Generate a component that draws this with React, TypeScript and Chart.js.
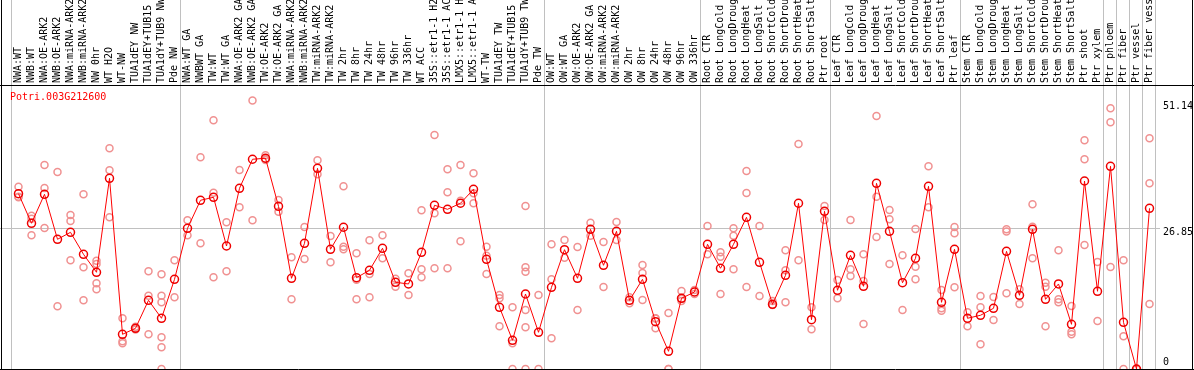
import React, { useEffect, useRef } from "react";
import { Chart, registerables } from "chart.js";

Chart.register(...registerables);

const TITLE = "Potri.003G212600";

const categories: string[] = [
  "NWA:WT", "NWB:WT", "NWA:OE-ARK2", "NWB:OE-ARK2", "NWA:miRNA-ARK2", "NWB:miRNA-ARK2",
  "NW 0hr", "WT H2O", "WT-NW", "TUA1dEY NW", "TUA1dEY+TUB15 NW", "TUA1dY+TUB9 NW", "Pde NW",
  "NWA:WT GA", "NWBWT GA", "TW:WT", "TW:WT GA", "NWA:OE-ARK2 GA", "NWB:OE-ARK2 GA",
  "TW:OE-ARK2", "TW:OE-ARK2 GA", "NWA:miRNA-ARK2 GA", "NWB:miRNA-ARK2 GA", "TW:miRNA-ARK2",
  "TW:miRNA-ARK2 GA", "TW 2hr", "TW 8hr", "TW 24hr", "TW 48hr", "TW 96hr", "TW 336hr",
  "WT ACC", "35S::etr1-1 H2O", "35S::etr1-1 ACC", "LMX5::etr1-1 H2O", "LMX5::etr1-1 ACC",
  "WT-TW", "TUA1dEY TW", "TUA1dEY+TUB15 TW", "TUA1dY+TUB9 TW", "Pde TW",
  "OW:WT", "OW:WT GA", "OW:OE-ARK2", "OW:OE-ARK2 GA", "OW:miRNA-ARK2", "OW:miRNA-ARK2 GA",
  "OW 2hr", "OW 8hr", "OW 24hr", "OW 48hr", "OW 96hr", "OW 336hr",
  "Root CTR", "Root LongCold", "Root LongDrought", "Root LongHeat", "Root LongSalt",
  "Root ShortCold", "Root ShortDrought", "Root ShortHeat", "Root ShortSalt", "Ptr root",
  "Leaf CTR", "Leaf LongCold", "Leaf LongDrought", "Leaf LongHeat", "Leaf LongSalt",
  "Leaf ShortCold", "Leaf ShortDrought", "Leaf ShortHeat", "Leaf ShortSalt", "Ptr leaf",
  "Stem CTR", "Stem LongCold", "Stem LongDrought", "Stem LongHeat", "Stem LongSalt",
  "Stem ShortCold", "Stem ShortDrought", "Stem ShortHeat", "Stem ShortSalt", "Ptr shoot",
  "Ptr xylem", "Ptr phloem", "Ptr fiber", "Ptr vessel", "Ptr fiber vessel",
];

// group boundaries (category index where a new group starts)
const groupBoundaries: number[] = [0, 13, 41, 53, 63, 73, 84, 85, 86, 87, 88];

const means: number[] = [
  33.38, 27.75, 33.27, 24.70, 26.03, 21.84, 18.42, 36.32, 6.61, 7.75,
  13.08, 9.66, 17.08, 26.79, 32.13, 32.70, 23.42, 34.41, 39.94, 40.13,
  30.98, 17.27, 23.94, 38.22, 22.80, 26.99, 17.39, 18.80, 22.99, 16.51,
  16.19, 22.22, 31.17, 30.41, 31.56, 34.22, 20.89, 11.75, 5.47, 14.28,
  6.99, 15.56, 22.72, 17.27, 26.60, 19.75, 26.22, 13.08, 17.08, 9.01,
  3.37, 13.46, 14.66, 23.75, 19.18, 23.75, 28.89, 20.32, 12.32, 17.84,
  31.56, 9.39, 30.03, 14.99, 21.65, 15.75, 35.36, 26.22, 16.43, 21.08,
  34.79, 12.70, 22.80, 9.66, 10.23, 11.56, 22.41, 14.04, 26.60, 13.27,
  16.19, 8.51, 35.80, 14.80, 38.60, 8.89, 0, 30.60,
];

const replicates: number[][] = [
  [34.72, 32.7, 32.8], [29.2, 25.46, 28.6], [38.85, 34.47, 26.85], [37.52, 11.94],
  [29.33, 28.19, 20.7], [33.27, 19.37, 13.08], [20.63, 20.0, 16.32, 15.17], [42.03, 37.84, 28.89],
  [9.65, 5.27, 4.89], [8.06, 7.75, 7.5], [18.6, 13.96, 6.6], [18.03, 13.96, 12.7, 6.03, 4.13, 0],
  [20.7, 13.65], [28.31, 25.46], [40.31, 23.93], [47.36, 33.58, 17.46],
  [27.93, 18.6], [37.9, 30.79], [51.14, 28.31], [40.69, 40.0, 39.8],
  [32.18, 29.96], [21.27, 13.27], [27.04, 20.95], [39.74, 37.07],
  [25.33, 20.31], [34.79, 23.3, 22.79], [22.03, 13.27, 17.0], [24.5, 18.09, 13.65],
  [25.46, 21.07], [17.2, 15.68], [18.22, 14.09], [30.22, 18.98, 17.46],
  [44.56, 29.64, 19.17], [38.02, 33.64, 19.17], [38.85, 32.06, 24.31], [37.26, 33.45, 31.55],
  [23.3, 21.58, 18.09], [14.09, 13.46, 8.13], [11.75, 4.89, 0], [31.04, 19.37, 18.54, 11.24, 7.94, 0],
  [14.09, 0], [23.75, 17.08, 5.85], [24.57, 21.2], [23.23, 11.24],
  [27.87, 25.39], [24.19, 15.62], [28.0, 24.57], [13.65, 12.51],
  [19.81, 18.28, 13.14], [9.65, 7.75, 9.6], [10.66, 0, 0], [14.85, 12.95, 13.4],
  [15.04, 14.28], [27.23, 21.84], [22.22, 21.39, 14.28], [26.79, 25.39, 18.98],
  [37.71, 33.52, 15.62], [27.23, 13.9], [12.95, 12.19], [22.6, 18.8, 12.7],
  [42.85, 20.7], [11.75, 7.56], [31.04, 28.38], [16.95, 13.46],
  [28.38, 18.98, 17.71], [21.84, 16.76, 8.57], [48.18, 32.82, 25.14], [30.28, 28.5, 20.0],
  [21.65, 11.24], [26.66, 19.49, 17.08], [38.6, 30.79], [15.04, 11.55, 11.11],
  [27.04, 25.84, 15.56], [10.79, 8.13], [13.9, 11.75, 4.7], [13.71, 9.33],
  [26.6, 26.2, 14.41], [15.17, 12.38], [31.36, 27.11, 21.07], [16.44, 15.68, 8.13],
  [22.6, 13.27, 12.7], [12.0, 7.11, 6.6], [43.55, 39.93, 23.61], [20.38, 9.14],
  [49.64, 46.97, 19.43], [20.7, 6.22, 0], [0, 0], [43.93, 35.36, 12.38],
];

const yTickValues: number[] = [0, 26.85, 51.14];
const yTickLabels: string[] = ["0", "26.85", "51.14"];
const yTickTextShift: number[] = [-6.5, 4.5, 5.5];

const MONO = '"DejaVu Sans Mono", "Liberation Mono", monospace';

export default function App() {
  const canvasRef = useRef<HTMLCanvasElement | null>(null);

  useEffect(() => {
    const canvas = canvasRef.current;
    if (!canvas) return;

    const replicatePoints: { x: number; y: number }[] = [];
    replicates.forEach((vals, i) => vals.forEach((v) => replicatePoints.push({ x: i, y: v })));

    const framePlugin = {
      id: "framePlugin",
      beforeDatasetsDraw(chart: any) {
        const ctx = chart.ctx;
        const xs = chart.scales.x;
        const ys = chart.scales.y;
        ctx.save();
        ctx.strokeStyle = "#c0c0c0";
        ctx.lineWidth = 1;
        groupBoundaries.forEach((k) => {
          const px = Math.round(xs.getPixelForValue(k - 0.5)) - 0.5;
          ctx.beginPath();
          ctx.moveTo(px, 0);
          ctx.lineTo(px, chart.chartArea.bottom);
          ctx.stroke();
        });
        const gy = Math.round(ys.getPixelForValue(yTickValues[1])) + 0.5;
        ctx.beginPath();
        ctx.moveTo(0, gy);
        ctx.lineTo(chart.chartArea.right + 4, gy);
        ctx.stroke();
        ctx.restore();
      },
      afterDatasetsDraw(chart: any) {
        const ctx = chart.ctx;
        const ys = chart.scales.y;
        const { top, bottom, right } = chart.chartArea;
        ctx.save();
        ctx.strokeStyle = "#000000";
        ctx.lineWidth = 1;
        ctx.beginPath();
        ctx.moveTo(1.5, 0);
        ctx.lineTo(1.5, chart.height);
        ctx.moveTo(1192.5, 0);
        ctx.lineTo(1192.5, chart.height);
        ctx.moveTo(0, top + 0.5);
        ctx.lineTo(chart.width, top + 0.5);
        ctx.moveTo(0, bottom + 0.5);
        ctx.lineTo(chart.width, bottom + 0.5);
        ctx.stroke();
        // title
        ctx.fillStyle = "#ff0000";
        ctx.font = "10px " + MONO;
        ctx.textBaseline = "alphabetic";
        ctx.textAlign = "left";
        ctx.fillText(TITLE, 10, 100);
        // right axis labels
        ctx.fillStyle = "#000000";
        ctx.textBaseline = "middle";
        yTickValues.forEach((v, i) => {
          const py = ys.getPixelForValue(v) + yTickTextShift[i];
          ctx.fillText(yTickLabels[i], right + 7, py);
        });
        ctx.restore();
      },
    };

    const chart = new Chart(canvas, {
      type: "line",
      data: {
        labels: categories,
        datasets: [
          {
            label: "mean",
            data: means,
            borderColor: "#ff0000",
            borderWidth: 1,
            pointRadius: 4,
            pointBorderWidth: 1.5,
            pointBorderColor: "#ee0000",
            pointBackgroundColor: "rgba(0,0,0,0)",
            tension: 0,
            clip: false as any,
            order: 0,
          },
          {
            type: "scatter" as any,
            label: "replicates",
            data: replicatePoints as any,
            parsing: false,
            showLine: false,
            pointRadius: 3.5,
            pointBorderWidth: 1.5,
            pointBorderColor: "rgb(240,145,145)",
            pointBackgroundColor: "rgba(0,0,0,0)",
            clip: false as any,
            order: 1,
          } as any,
        ],
      },
      options: {
        responsive: false,
        animation: false,
        layout: { autoPadding: false, padding: { left: 12, right: 0, top: 0, bottom: 1 } },
        plugins: {
          legend: { display: false },
          tooltip: { enabled: false },
          title: { display: false },
        },
        scales: {
          x: {
            type: "category",
            position: "top",
            offset: true,
            grid: { display: false, drawTicks: false },
            border: { display: false },
            ticks: {
              autoSkip: false,
              minRotation: 90,
              maxRotation: 90,
              padding: 2,
              labelOffset: 12,
              color: "#000000",
              font: { family: MONO, size: 10 },
            },
            afterFit(scale: any) {
              scale.height = 85;
            },
          },
          y: {
            type: "linear",
            position: "right",
            min: 0,
            max: 54.08,
            grid: { display: false, drawTicks: false },
            border: { display: false },
            ticks: { display: false },
            afterBuildTicks(scale: any) {
              scale.ticks = yTickValues.map((v) => ({ value: v }));
            },
            afterFit(scale: any) {
              scale.width = 38;
            },
          },
        },
      },
      plugins: [framePlugin],
    });

    return () => chart.destroy();
  }, []);

  return (
    <div style={{ position: "absolute", left: 0, top: 0, width: 1194, height: 370, background: "#ffffff" }}>
      <canvas ref={canvasRef} width={1194} height={370} style={{ display: "block" }} />
    </div>
  );
}
